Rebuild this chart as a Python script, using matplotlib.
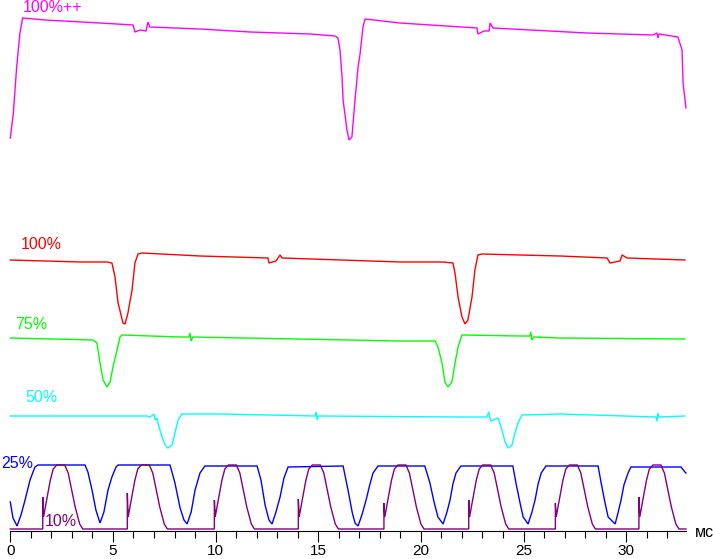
import matplotlib
matplotlib.use("Agg")
import matplotlib.pyplot as plt
from matplotlib.ticker import MultipleLocator

# ---- data: time in ms, vertical level in screen units (larger = lower) ----
magenta_t = [0.00, 0.15, 0.31, 0.47, 0.60, 1.69, 4.37, 5.98, 6.07, 6.32, 6.61, 6.71, 6.80, 9.24,
             11.68, 14.60, 15.82, 15.96, 16.06, 16.16, 16.21, 16.40, 16.50, 16.64, 16.79, 16.94,
             17.03, 17.18, 17.28, 18.98, 22.73, 22.78, 23.07, 23.32, 23.37, 23.51, 28.09, 31.31,
             31.50, 31.55, 31.60, 32.52, 32.72, 32.77, 32.91]
magenta_y = [138, 113, 67, 33, 18, 20, 23, 25, 32, 30, 31, 22, 27, 29,
             32, 34, 36, 38, 50, 77, 100, 130, 140, 137, 100, 67,
             55, 27, 19, 23, 28, 34, 31, 31, 23, 28, 33, 35,
             33, 38, 34, 37, 50, 83, 108]

red_t = [0.00, 3.40, 4.71, 4.95, 5.10, 5.25, 5.49, 5.59, 5.73, 5.93, 6.07, 6.22, 6.41, 9.24,
         12.55, 12.60, 12.94, 13.14, 13.24, 18.98, 21.08, 21.56, 21.66, 21.81, 22.00, 22.15,
         22.29, 22.49, 22.63, 22.78, 22.97, 24.83, 26.78, 29.07, 29.21, 29.70, 29.80, 30.04, 32.86]
red_y = [260, 262, 262, 263, 277, 303, 323, 324, 313, 290, 263, 254, 253, 256,
         258, 263, 261, 255, 258, 262, 262, 263, 273, 297, 317, 324,
         320, 297, 270, 255, 254, 255, 256, 258, 263, 261, 255, 258, 260]

green_t = [0.00, 4.03, 4.22, 4.37, 4.52, 4.71, 4.86, 5.00, 5.20, 5.34, 5.44, 8.27, 8.70, 8.75,
           8.80, 8.90, 18.98, 20.69, 20.83, 21.03, 21.17, 21.32, 21.51, 21.66, 21.81, 22.00,
           24.83, 25.30, 25.35, 25.40, 25.50, 26.78, 32.86]
green_y = [338, 340, 343, 363, 380, 387, 382, 367, 350, 337, 335, 337, 337, 333,
           341, 337, 341, 341, 347, 363, 382, 387, 382, 363, 347, 335,
           336, 336, 332, 340, 337, 338, 339]

cyan_t = [0.00, 6.66, 6.80, 7.00, 7.05, 7.15, 7.19, 7.39, 7.54, 7.68, 7.88, 8.02, 8.17, 8.36,
          10.21, 14.85, 14.90, 14.95, 15.00, 21.90, 23.22, 23.30, 23.40, 23.76, 23.95, 24.10,
          24.25, 24.44, 24.58, 24.73, 24.92, 26.78, 31.45, 31.50, 31.55, 31.60, 32.86]
cyan_y = [416, 416, 417, 414, 420, 418, 423, 437, 445, 448, 445, 433, 420, 414,
          414, 416, 412, 420, 416, 417, 417, 412, 421, 418, 430, 442,
          448, 445, 433, 423, 415, 414, 417, 421, 413, 417, 416]

blue_t = [0.00, 0.13, 0.33, 0.52, 0.72, 0.96, 1.20, 1.35, 3.64, 3.78, 3.98, 4.17, 4.37, 4.56,
          4.76, 4.95, 5.15, 5.25, 7.78, 8.02, 8.27, 8.46, 8.61, 8.81, 9.00, 9.24, 9.48, 12.02,
          12.21, 12.41, 12.60, 12.75, 12.94, 13.14, 13.33, 13.53, 16.21, 16.45, 16.65, 16.79,
          16.94, 17.14, 17.33, 17.52, 17.67, 17.91, 20.19, 20.44, 20.64, 20.83, 21.08, 21.27,
          21.42, 21.56, 21.71, 21.95, 24.48, 24.63, 24.83, 24.98, 25.22, 25.41, 25.56, 25.71,
          25.86, 26.09, 28.63, 28.78, 28.97, 29.12, 29.46, 29.60, 29.75, 29.89, 30.09, 30.23,
          32.67, 32.86, 32.91]
blue_y = [502, 518, 526, 515, 500, 480, 467, 465, 465, 472, 490, 510, 523, 512,
          490, 477, 467, 465, 465, 483, 508, 520, 524, 512, 490, 473, 466, 466,
          480, 505, 520, 524, 512, 497, 478, 467, 466, 490, 512, 523,
          526, 514, 500, 484, 473, 466, 466, 483, 502, 517, 524, 512,
          500, 484, 473, 466, 466, 483, 503, 517, 524, 512, 500, 484,
          473, 466, 466, 483, 503, 517, 524, 513, 500, 485, 473, 467,
          467, 472, 473]

purple_t = [0.00,
            1.58, 1.58, 1.62, 1.77, 1.95, 2.09, 2.26, 2.65, 2.82, 2.99, 3.16, 3.38, 3.53,
            5.70, 5.70, 5.74, 5.89, 6.07, 6.21, 6.38, 6.77, 6.94, 7.11, 7.28, 7.50, 7.65,
            9.94, 9.94, 9.98, 10.13, 10.31, 10.45, 10.62, 11.01, 11.18, 11.35, 11.52, 11.74, 11.89,
            14.03, 14.03, 14.07, 14.22, 14.40, 14.54, 14.71, 15.10, 15.27, 15.44, 15.61, 15.83, 15.98,
            18.20, 18.20, 18.24, 18.39, 18.57, 18.71, 18.88, 19.27, 19.44, 19.61, 19.78, 20.00, 20.15,
            22.33, 22.33, 22.37, 22.52, 22.70, 22.84, 23.01, 23.40, 23.57, 23.74, 23.91, 24.13, 24.28,
            26.55, 26.55, 26.59, 26.74, 26.92, 27.06, 27.23, 27.62, 27.79, 27.96, 28.13, 28.35, 28.50,
            30.62, 30.62, 30.66, 30.81, 30.99, 31.13, 31.30, 31.69, 31.86, 32.03, 32.20, 32.42, 32.57,
            32.91]
purple_y = [529,
            529, 497, 517, 500, 480, 469, 465, 465, 473, 490, 507, 524, 529,
            529, 493, 517, 500, 480, 469, 465, 465, 473, 490, 507, 524, 529,
            529, 500, 517, 500, 480, 469, 465, 465, 473, 490, 507, 524, 529,
            529, 499, 517, 500, 480, 469, 465, 465, 473, 490, 507, 524, 529,
            529, 503, 517, 500, 480, 469, 465, 465, 473, 490, 507, 524, 529,
            529, 500, 517, 500, 480, 469, 465, 465, 473, 490, 507, 524, 529,
            529, 503, 517, 500, 480, 469, 465, 465, 473, 490, 507, 524, 529,
            529, 497, 517, 500, 480, 469, 465, 465, 473, 490, 507, 524, 529,
            529]

series = [
    ("100%++", magenta_t, magenta_y, "#FF00FF", 0.61, 12),
    ("100%", red_t, red_y, "#FF0000", 0.51, 249),
    ("75%", green_t, green_y, "#00FF00", 0.23, 329),
    ("50%", cyan_t, cyan_y, "#00FFFF", 0.75, 402.5),
    ("25%", blue_t, blue_y, "#0000FF", -0.45, 467.5),
    ("10%", purple_t, purple_y, "#800080", 1.69, 526),
]
tick_values = [0, 5, 10, 15, 20, 25, 30]
x_unit = "мс"

plt.rcParams['font.family'] = ['Liberation Sans', 'DejaVu Sans']

fig = plt.figure(figsize=(7.13, 5.59), dpi=100)
ax = fig.add_axes([0, 0, 1, 1])
ax.set_xlim(-10.3 / 20.53, (713 - 10.3) / 20.53)
ax.set_ylim(559, 0)

for label, t, y, color, lx, ly in series:
    ax.plot(t, y, color=color, lw=1.0, solid_joinstyle='miter')
    ax.text(lx, ly, label, color=color, fontsize=11.5, ha='left', va='baseline')

for s in ['top', 'left', 'right']:
    ax.spines[s].set_visible(False)
ax.spines['bottom'].set_position(('data', 531))
ax.spines['bottom'].set_bounds(0, 32.91)
ax.spines['bottom'].set_linewidth(0.8)
ax.set_yticks([])
ax.set_xticks(tick_values)
ax.set_xticklabels([str(v) for v in tick_values])
ax.xaxis.set_minor_locator(MultipleLocator(1))
ax.tick_params(axis='x', which='major', direction='out', length=8, width=0.8,
               labelsize=11, pad=1.2, colors='black')
ax.tick_params(axis='x', which='minor', direction='out', length=5, width=0.8)
ax.set_xticks([m for m in range(0, 33)], minor=True)
ax.text((695 - 10.3) / 20.53, 537, x_unit, fontsize=11.5, ha='left', va='baseline', color='black')

fig.savefig("out.png", dpi=100)
